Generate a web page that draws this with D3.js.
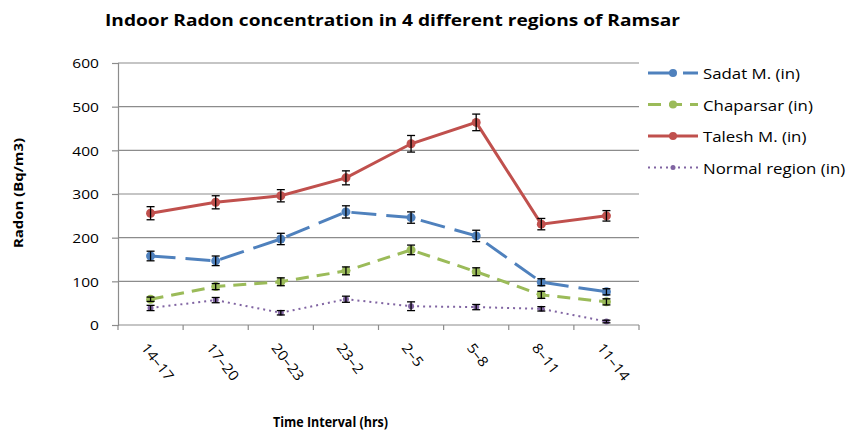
<!DOCTYPE html>
<html>
<head>
<meta charset="utf-8">
<script src="https://cdn.jsdelivr.net/npm/d3@7"></script>
<style>
  body { margin: 0; background: #fff; }
  text { font-family: "Open Sans", "Noto Sans", sans-serif; fill: #000; }
</style>
</head>
<body>
<div id="chart"></div>
<script>
var width = 846,
	height = 430;

var intervals = ['14\u201317', '17\u201320', '20\u201323', '23\u20132', '2\u20135', '5\u20138', '8\u201311', '11\u201314'];
var yTicks = [0, 100, 200, 300, 400, 500, 600];

// mean values
var sadat = [158, 147, 197, 259, 246, 204, 98, 76];
var chaparsar = [59, 88, 99, 124, 172, 122, 69, 53];
var talesh = [256, 281, 296, 337, 415, 464, 231, 250];
var normal = [39, 57, 28, 59, 43, 41, 37, 8];

// error bar half widths
var sadatErr = [11, 11, 13, 14, 13, 13, 8, 7];
var chaparsarErr = [5, 7, 9, 9, 11, 9, 8, 7];
var taleshErr = [15, 15, 14, 16, 19, 19, 13, 12];
var normalErr = [6, 6, 5, 7, 10, 6, 5, 3];

var seriesNames = ['Sadat M. (in)', 'Chaparsar (in)', 'Talesh M. (in)', 'Normal region (in)'];
var seriesColors = ['#4F81BD', '#9BBB59', '#C0504D', '#8064A2'];

var series = [
	{ name: seriesNames[0], values: sadat, err: sadatErr, color: seriesColors[0], dash: '25,10', w: 3, r: 4.5 },
	{ name: seriesNames[1], values: chaparsar, err: chaparsarErr, color: seriesColors[1], dash: '13,8', w: 3, r: 4.5 },
	{ name: seriesNames[2], values: talesh, err: taleshErr, color: seriesColors[2], dash: null, w: 3, r: 4.5 },
	{ name: seriesNames[3], values: normal, err: normalErr, color: seriesColors[3], dash: '2,4', w: 2, r: 3 }
];

var pLeft = 118, pRight = 639, pTop = 63, pBottom = 325;

// the picture is stretched sideways, so text is widened to match
function stretch(sel, k) {
	sel.each(function() {
		var n = this.getComputedTextLength();
		d3.select(this).attr('textLength', n * k).attr('lengthAdjust', 'spacingAndGlyphs');
	});
}

var svg = d3.select('#chart')
	.append('svg')
	.attr('width', width)
	.attr('height', height);

var x = d3.scaleBand()
	.domain(intervals)
	.range([pLeft, pRight]);

var y = d3.scaleLinear()
	.domain([0, 600])
	.range([pBottom, pTop]);

// grid lines
svg.append('g')
	.selectAll('line')
	.data(yTicks.slice(1))
	.enter().append('line')
	.attr('x1', pLeft)
	.attr('x2', pRight)
	.attr('y1', d => y(d))
	.attr('y2', d => y(d))
	.attr('stroke', '#8c8c8c')
	.attr('stroke-width', 1.2);

// y axis
var yAxis = svg.append('g')
	.attr('transform', `translate(${pLeft},0)`)
	.call(d3.axisLeft(y).tickValues(yTicks).tickSize(6).tickPadding(13));
yAxis.selectAll('text').style('font-size', '13.5px').attr('fill', '#000').attr('dy', '0.36em');
yAxis.selectAll('line, path').attr('stroke', '#8c8c8c').attr('stroke-width', 1.2);
stretch(yAxis.selectAll('text'), 1.15);

// x axis, ticks sit on the band edges
var xAxis = svg.append('g')
	.attr('transform', `translate(0,${pBottom})`);
xAxis.append('line')
	.attr('x1', pLeft).attr('x2', pRight)
	.attr('stroke', '#8c8c8c').attr('stroke-width', 1.2);
xAxis.selectAll('line.tk')
	.data(intervals.concat(['end']))
	.enter().append('line')
	.attr('class', 'tk')
	.attr('x1', (d, i) => pLeft + i * x.bandwidth())
	.attr('x2', (d, i) => pLeft + i * x.bandwidth())
	.attr('y1', 0).attr('y2', 5)
	.attr('stroke', '#8c8c8c').attr('stroke-width', 1.2);
var xLabels = xAxis.selectAll('text')
	.data(intervals)
	.enter().append('text')
	.attr('transform', d => `translate(${x(d) + x.bandwidth() / 2 - 10},${23}) rotate(52)`)
	.style('font-size', '14px')
	.text(d => d);
stretch(xLabels, 1.1);

var line = d3.line()
	.x((d, i) => x(intervals[i]) + x.bandwidth() / 2)
	.y(d => y(d));

series.forEach(function(s) {
	var g = svg.append('g');
	g.append('path')
		.attr('d', line(s.values))
		.attr('fill', 'none')
		.attr('stroke', s.color)
		.attr('stroke-width', s.w)
		.attr('stroke-dasharray', s.dash);
	g.selectAll('circle')
		.data(s.values)
		.enter().append('circle')
		.attr('cx', (d, i) => x(intervals[i]) + x.bandwidth() / 2)
		.attr('cy', d => y(d))
		.attr('r', s.r)
		.attr('fill', s.color);
});

// error bars on top
series.forEach(function(s) {
	var g = svg.append('g').attr('stroke', '#000').attr('stroke-width', 1.3);
	s.values.forEach(function(v, i) {
		var cx = x(intervals[i]) + x.bandwidth() / 2;
		var y0 = y(v - s.err[i]), y1 = y(v + s.err[i]);
		g.append('line').attr('x1', cx).attr('x2', cx).attr('y1', y0).attr('y2', y1);
		g.append('line').attr('x1', cx - 4).attr('x2', cx + 4).attr('y1', y0).attr('y2', y0);
		g.append('line').attr('x1', cx - 4).attr('x2', cx + 4).attr('y1', y1).attr('y2', y1);
	});
});

// legend
var legend = svg.append('g');
series.forEach(function(s, i) {
	var ly = 73 + i * 31.5;
	legend.append('line')
		.attr('x1', 648).attr('x2', 698)
		.attr('y1', ly).attr('y2', ly)
		.attr('stroke', s.color)
		.attr('stroke-width', s.w)
		.attr('stroke-dasharray', s.dash);
	legend.append('circle')
		.attr('cx', 673).attr('cy', ly).attr('r', s.r - 0.5)
		.attr('fill', s.color);
	legend.append('text')
		.attr('x', 703).attr('y', ly + 6)
		.style('font-size', '14.5px')
		.text(s.name);
});
stretch(legend.selectAll('text'), 1.16);

// titles
svg.append('text')
	.attr('x', 105).attr('y', 26)
	.style('font-size', '16px')
	.style('font-weight', 'bold')
	.attr('textLength', 575)
	.attr('lengthAdjust', 'spacingAndGlyphs')
	.text('Indoor Radon concentration in 4 different regions of Ramsar');

svg.append('text')
	.attr('x', 273).attr('y', 427)
	.style('font-size', '14px')
	.style('font-weight', 'bold')
	.attr('textLength', 115)
	.attr('lengthAdjust', 'spacingAndGlyphs')
	.text('Time Interval (hrs)');

svg.append('text')
	.attr('transform', 'translate(23,248) rotate(-90)')
	.style('font-size', '13px')
	.style('font-weight', 'bold')
	.attr('textLength', 110)
	.attr('lengthAdjust', 'spacingAndGlyphs')
	.text('Radon (Bq/m3)');
</script>
</body>
</html>
